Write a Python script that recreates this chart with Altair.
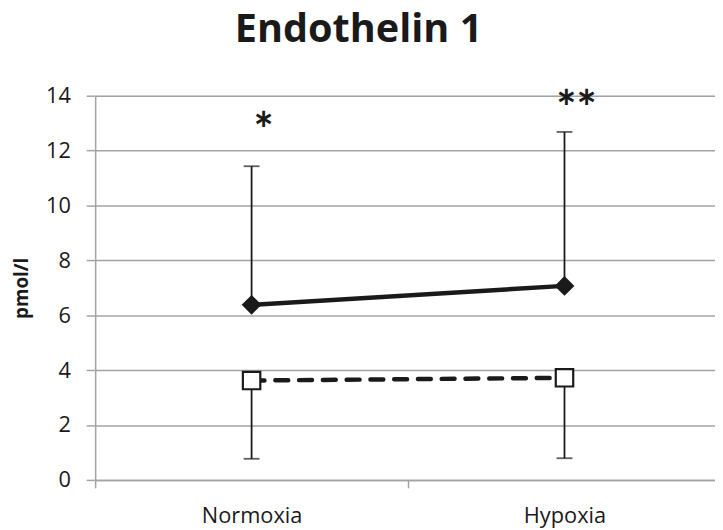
import altair as alt
import pandas as pd

categories = ["Normoxia", "Hypoxia"]
cat_index = [0, 1]
solid_mean = [6.38, 7.07]
solid_upper = [11.43, 12.68]
open_mean = [3.62, 3.72]
open_lower = [0.77, 0.79]
star_labels = ["*", "**"]
star_y = [13.1, 13.9]

FONT = "Open Sans"
STAR_FONT = "Lato"
INK = "#1a1a1a"
GRID = "#a3a3a3"

solid = pd.DataFrame({"cat": categories, "xi": cat_index, "mean": solid_mean, "err": solid_upper})
opn = pd.DataFrame({"cat": categories, "xi": cat_index, "mean": open_mean, "err": open_lower})
stars = pd.DataFrame({"cat": categories, "xi": cat_index, "y": star_y, "label": star_labels})

x_scale = alt.Scale(domain=[-0.5, 1.481], nice=False, zero=False)
y_scale = alt.Scale(domain=[0, 14], nice=False)

x_axis = alt.Axis(
    values=[-0.5, 0, 0.5, 1],
    labelExpr="datum.value == 0 ? 'Normoxia' : (datum.value == 1 ? 'Hypoxia' : '')",
    tickOpacity={"condition": {"test": "datum.value == 0 || datum.value == 1", "value": 0}, "value": 1},
    grid=False, title=None, tickSize=8, tickColor=GRID, domainColor=GRID,
    domainWidth=1.5, tickWidth=1.5, labelFont=FONT, labelFontSize=22, labelColor=INK,
    labelPadding=18, labelFlush=False, labelOverlap=False,
)
y_axis = alt.Axis(
    values=[0, 2, 4, 6, 8, 10, 12, 14], title="pmol/l", titleFont=FONT, titleFontSize=19,
    titleFontWeight="bold", titleColor=INK, titlePadding=14,
    grid=True, gridColor=GRID, gridWidth=1.5, tickSize=9, tickColor=GRID, tickWidth=1.5,
    domainColor=GRID, domainWidth=1.5, labelFont=FONT, labelFontSize=22, labelColor=INK,
    labelPadding=16,
)

X = alt.X("xi:Q", scale=x_scale, axis=x_axis)

base_s = alt.Chart(solid)
base_o = alt.Chart(opn)

err_s = base_s.mark_rule(color=INK, strokeWidth=1.8).encode(
    x=X, y=alt.Y("mean:Q", scale=y_scale, axis=y_axis), y2="err:Q")
cap_s = base_s.mark_tick(color=INK, thickness=1.8, size=16, orient="horizontal").encode(
    x=X, y=alt.Y("err:Q", scale=y_scale))
err_o = base_o.mark_rule(color=INK, strokeWidth=1.8).encode(
    x=X, y=alt.Y("err:Q", scale=y_scale), y2="mean:Q")
cap_o = base_o.mark_tick(color=INK, thickness=1.8, size=16, orient="horizontal").encode(
    x=X, y=alt.Y("err:Q", scale=y_scale))

line_s = base_s.mark_line(color=INK, strokeWidth=4.5).encode(
    x=X, y=alt.Y("mean:Q", scale=y_scale))
line_o = base_o.mark_line(color=INK, strokeWidth=4.5, strokeDash=[13, 11], strokeCap="round").encode(
    x=X, y=alt.Y("mean:Q", scale=y_scale))

pt_s = base_s.mark_point(shape="diamond", filled=True, color=INK, size=400, opacity=1).encode(
    x=X, y=alt.Y("mean:Q", scale=y_scale))
pt_o = base_o.mark_point(shape="square", filled=True, fill="white", stroke=INK, strokeWidth=2.2,
                         size=310, opacity=1).encode(
    x=X, y=alt.Y("mean:Q", scale=y_scale))

star_txt = alt.Chart(stars).mark_text(font=STAR_FONT, fontSize=48, fontWeight="bold", color=INK,
                                      baseline="middle", dx=12, dy=13).encode(
    x=X, y=alt.Y("y:Q", scale=y_scale), text="label:N")

chart = alt.layer(err_s, cap_s, err_o, cap_o, line_s, line_o, pt_s, pt_o, star_txt).properties(
    width=626, height=388,
    title=alt.TitleParams("Endothelin 1", font=FONT, fontSize=40, fontWeight="bold", color=INK,
                          anchor="middle", dx=-47, offset=3, baseline="alphabetic"),
    autosize=alt.AutoSizeParams(type="none"),
    padding={"left": 88, "top": 86, "right": 0, "bottom": 46},
).configure_view(stroke=None).configure(background="white")

chart.save("out.html", embed_options={"renderer": "svg", "actions": False})
